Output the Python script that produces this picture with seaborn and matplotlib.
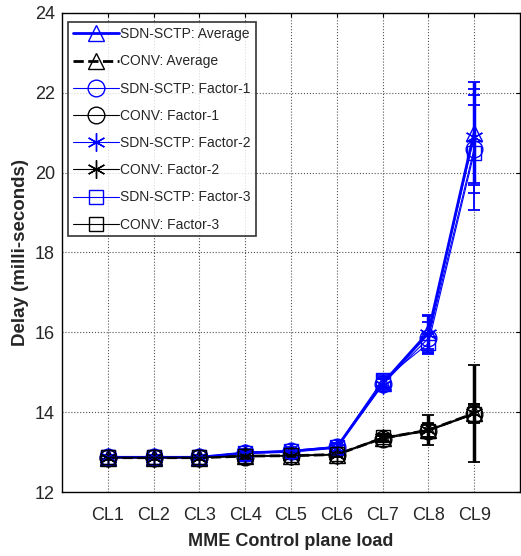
import numpy as np
import pandas as pd
import matplotlib
matplotlib.use("Agg")
import matplotlib.pyplot as plt
import seaborn as sns

# control plane load levels
loads = ["CL1", "CL2", "CL3", "CL4", "CL5", "CL6", "CL7", "CL8", "CL9"]

# mean delay (ms) per series
sdn_avg = [12.87, 12.87, 12.87, 12.98, 13.02, 13.12, 14.72, 16.00, 21.00]
conv_avg = [12.86, 12.86, 12.86, 12.90, 12.91, 12.94, 13.35, 13.55, 13.97]
sdn_f1 = [12.87, 12.87, 12.87, 12.99, 13.03, 13.13, 14.70, 15.85, 20.60]
conv_f1 = [12.86, 12.86, 12.86, 12.89, 12.90, 12.93, 13.33, 13.53, 13.95]
sdn_f2 = [12.87, 12.87, 12.87, 12.97, 13.01, 13.11, 14.68, 15.95, 20.90]
conv_f2 = [12.86, 12.86, 12.86, 12.90, 12.91, 12.94, 13.36, 13.56, 13.98]
sdn_f3 = [12.88, 12.88, 12.88, 12.99, 13.04, 13.14, 14.80, 15.72, 20.50]
conv_f3 = [12.87, 12.87, 12.87, 12.91, 12.92, 12.95, 13.37, 13.54, 13.96]

# error bar half-widths
sdn_avg_err = [0.06, 0.06, 0.06, 0.08, 0.09, 0.10, 0.15, 0.43, 1.27]
conv_avg_err = [0.05, 0.05, 0.05, 0.06, 0.06, 0.07, 0.10, 0.37, 1.22]
sdn_f1_err = [0.05, 0.05, 0.05, 0.07, 0.08, 0.09, 0.13, 0.40, 1.10]
conv_f1_err = [0.05, 0.05, 0.05, 0.05, 0.06, 0.06, 0.08, 0.15, 0.20]
sdn_f2_err = [0.05, 0.05, 0.05, 0.07, 0.08, 0.09, 0.14, 0.45, 1.20]
conv_f2_err = [0.05, 0.05, 0.05, 0.05, 0.06, 0.06, 0.08, 0.18, 0.22]
sdn_f3_err = [0.06, 0.06, 0.06, 0.08, 0.08, 0.10, 0.14, 0.25, 1.45]
conv_f3_err = [0.05, 0.05, 0.05, 0.06, 0.06, 0.06, 0.08, 0.16, 0.24]

asterisk = (6, 2, 0)
series = [
    ("SDN-SCTP: Average", sdn_avg, sdn_avg_err, "blue", "^", "-", 2.0, 12),
    ("CONV: Average", conv_avg, conv_avg_err, "black", "^", "--", 2.0, 12),
    ("SDN-SCTP: Factor-1", sdn_f1, sdn_f1_err, "blue", "o", "-", 0.8, 12),
    ("CONV: Factor-1", conv_f1, conv_f1_err, "black", "o", "-", 0.8, 12),
    ("SDN-SCTP: Factor-2", sdn_f2, sdn_f2_err, "blue", asterisk, "-", 0.8, 13),
    ("CONV: Factor-2", conv_f2, conv_f2_err, "black", asterisk, "-", 0.8, 13),
    ("SDN-SCTP: Factor-3", sdn_f3, sdn_f3_err, "blue", "s", "-", 0.8, 10),
    ("CONV: Factor-3", conv_f3, conv_f3_err, "black", "s", "-", 0.8, 10),
]

sns.set_style("white")
plt.rcParams["font.family"] = ["Liberation Sans", "DejaVu Sans"]

fig = plt.figure(figsize=(5.21, 5.56), dpi=100)
ax = fig.add_axes([0.119, 0.115, 0.879, 0.862])

x = np.arange(1, len(loads) + 1)
for label, vals, err, color, mk, ls, lw, ms in series:
    df = pd.DataFrame({"x": x, "y": vals})
    ax.errorbar(x, vals, yerr=err, fmt="none", ecolor=color, elinewidth=lw + 0.5,
                capsize=4, capthick=1.3, zorder=2)
    sns.lineplot(data=df, x="x", y="y", ax=ax, color=color, linestyle=ls,
                 linewidth=lw, marker=mk, markersize=ms, markerfacecolor="none",
                 markeredgecolor=color, markeredgewidth=1.0, label=label, zorder=3)

ax.set_xlim(0, 10)
ax.set_ylim(12, 24)
ax.set_xticks(x)
ax.set_xticklabels(loads)
ax.set_yticks([12, 14, 16, 18, 20, 22, 24])
ax.tick_params(direction="in", length=3, labelsize=13, top=True, right=True,
               width=0.8, color="black", pad=5)
ax.tick_params(axis="x", pad=11)
ax.grid(True, linestyle=":", color="#555555", linewidth=0.8)
for s in ax.spines.values():
    s.set_color("black")
    s.set_linewidth(1.0)

ax.set_xlabel("MME Control plane load", fontsize=13, fontweight="bold", labelpad=6)
ax.set_ylabel("Delay (milli-seconds)", fontsize=13.5, fontweight="bold", labelpad=4)

leg = ax.legend(loc="upper left", fontsize=10, handlelength=3.3, frameon=True,
                fancybox=False, edgecolor="black", borderpad=0.35, labelspacing=0.95,
                handletextpad=0.1, borderaxespad=0.0, bbox_to_anchor=(0.013, 0.98))
leg.get_frame().set_linewidth(1.2)

fig.savefig("out.png", dpi=100, facecolor="white")
